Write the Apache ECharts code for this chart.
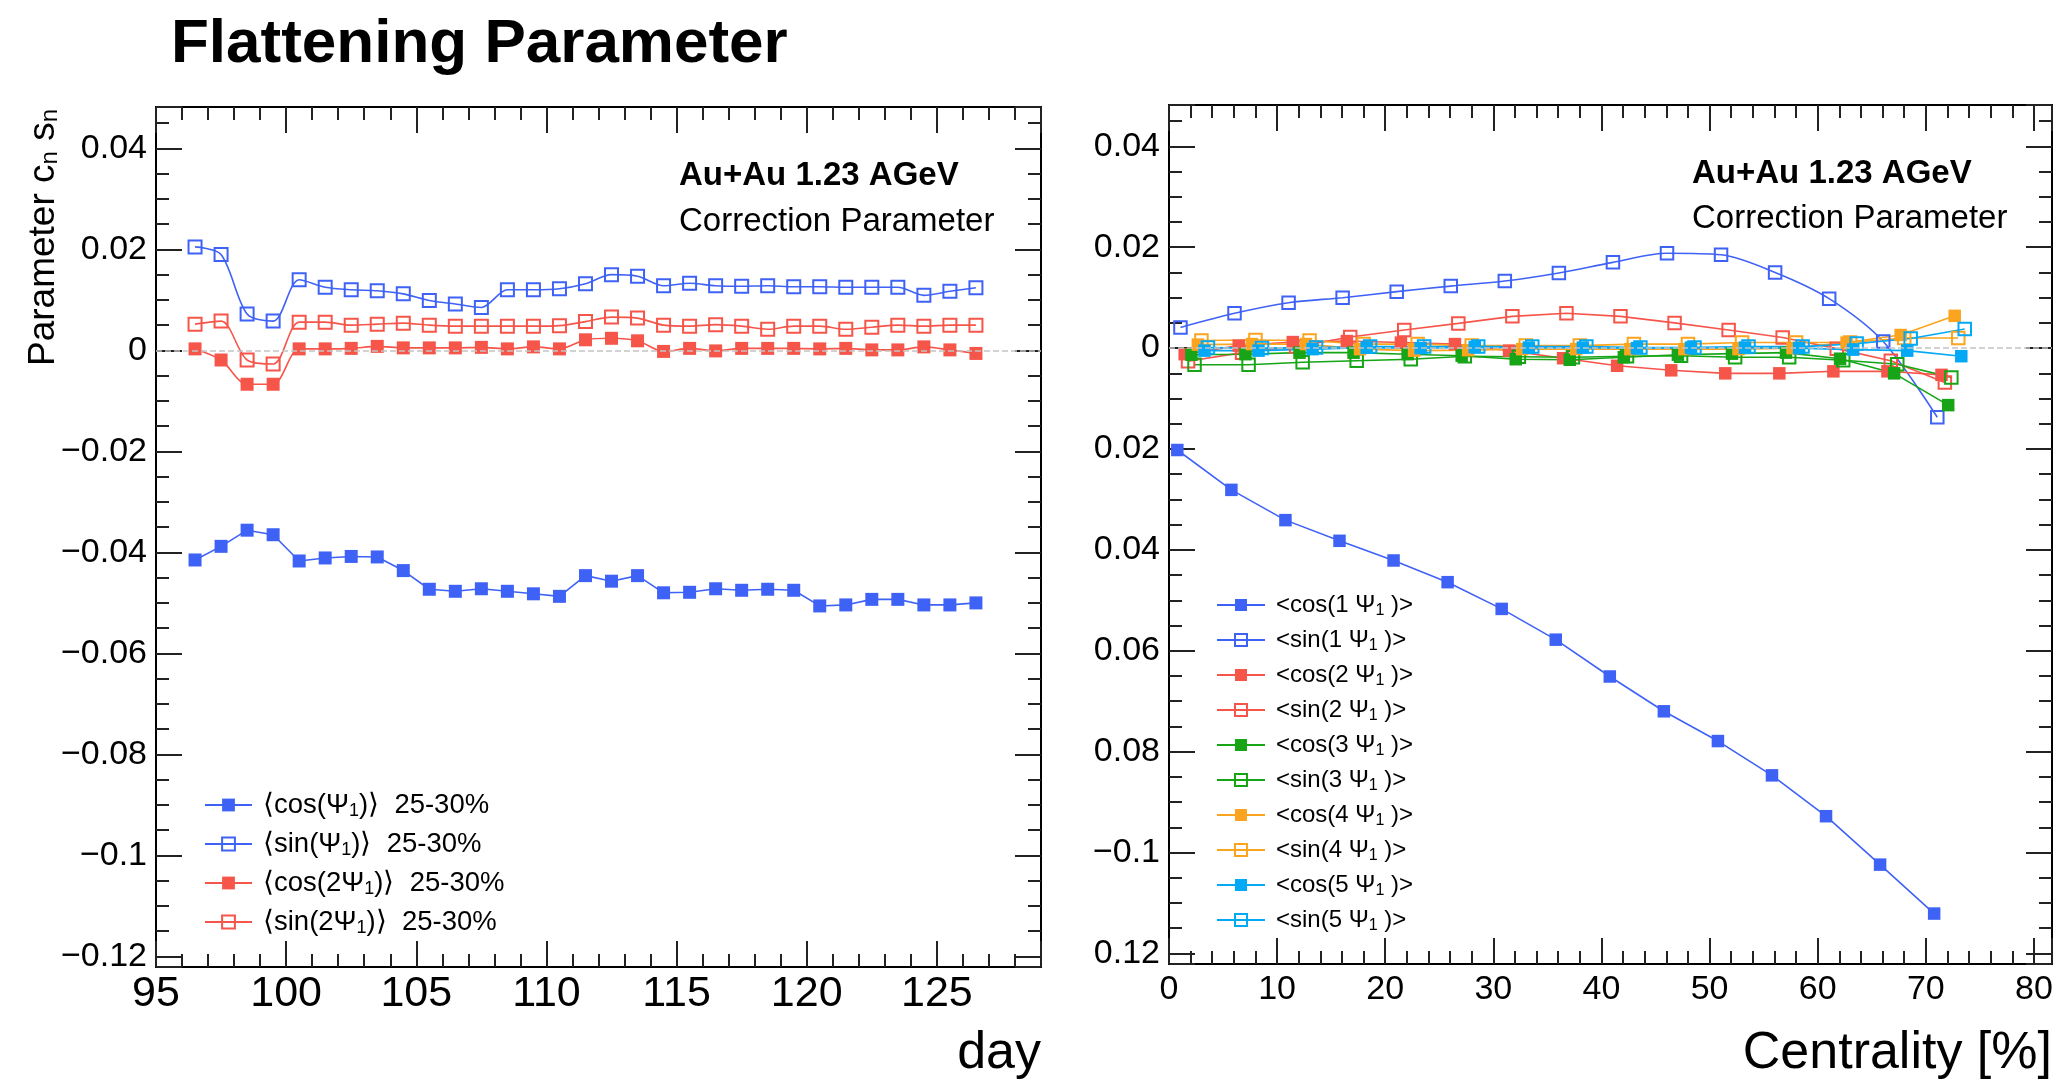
<!DOCTYPE html>
<html>
<head>
<meta charset="utf-8">
<script src="https://cdn.jsdelivr.net/npm/echarts@6/dist/echarts.min.js"></script>
<style>
  html, body { margin: 0; padding: 0; background: #fff; }
  #chart { width: 2058px; height: 1084px; }
</style>
</head>
<body>
<div id="chart"></div>
<script>
// ---------------- DATA ----------------
// Left panel: day vs parameter (25-30% centrality)
const days = [96.5, 97.5, 98.5, 99.5, 100.5, 101.5, 102.5, 103.5, 104.5, 105.5, 106.5, 107.5, 108.5, 109.5, 110.5,
  111.5, 112.5, 113.5, 114.5, 115.5, 116.5, 117.5, 118.5, 119.5, 120.5, 121.5, 122.5, 123.5, 124.5, 125.5, 126.5];
const dayCosPsi1 = [-0.0415, -0.0388, -0.0356, -0.0365, -0.0417, -0.0411, -0.0408, -0.0409, -0.0436, -0.0473, -0.0477,
  -0.0472, -0.0477, -0.0482, -0.0487, -0.0446, -0.0457, -0.0446, -0.0480, -0.0479, -0.0472, -0.0475, -0.0473, -0.0475,
  -0.0506, -0.0504, -0.0493, -0.0493, -0.0504, -0.0504, -0.0500];
const daySinPsi1 = [0.0205, 0.0190, 0.0072, 0.0058, 0.0140, 0.0125, 0.0120, 0.0118, 0.0112, 0.0099, 0.0092, 0.0085,
  0.0120, 0.0120, 0.0122, 0.0132, 0.0150, 0.0147, 0.0128, 0.0133, 0.0128, 0.0127, 0.0128, 0.0126, 0.0126, 0.0125,
  0.0125, 0.0125, 0.0109, 0.0117, 0.0124];
const dayCos2Psi1 = [0.0003, -0.0019, -0.0067, -0.0067, 0.0003, 0.0003, 0.0004, 0.0008, 0.0005, 0.0005, 0.0005, 0.0006,
  0.0003, 0.0007, 0.0003, 0.0021, 0.0024, 0.0019, -0.0002, 0.0004, -0.0001, 0.0004, 0.0004, 0.0004, 0.0003, 0.0004,
  0.0001, 0.0001, 0.0007, 0.0001, -0.0006];
const daySin2Psi1 = [0.0052, 0.0058, -0.0019, -0.0027, 0.0056, 0.0056, 0.0050, 0.0052, 0.0054, 0.0050, 0.0048, 0.0048,
  0.0048, 0.0048, 0.0049, 0.0057, 0.0066, 0.0064, 0.0050, 0.0048, 0.0051, 0.0048, 0.0042, 0.0048, 0.0048, 0.0042,
  0.0046, 0.0050, 0.0048, 0.0050, 0.0050];
const leftSeriesNames = ['⟨cos(Ψ1)⟩  25-30%', '⟨sin(Ψ1)⟩  25-30%', '⟨cos(2Ψ1)⟩  25-30%', '⟨sin(2Ψ1)⟩  25-30%'];

// Right panel: centrality vs parameter
const centralityBins = [2.5, 7.5, 12.5, 17.5, 22.5, 27.5, 32.5, 37.5, 42.5, 47.5, 52.5, 57.5, 62.5, 67.5, 72.5];
// small horizontal shift of each series inside a bin (as drawn)
const harmonicOffsets = [-1.73, -1.44, -1.05, -0.74, -0.43, -0.14, 0.17, 0.50, 0.78, 1.10];
const centCos1 = [-0.0202, -0.0281, -0.0341, -0.0382, -0.0421, -0.0464, -0.0517, -0.0578, -0.0651, -0.0720, -0.0779, -0.0847, -0.0928, -0.1024, -0.1121];
const centSin1 = [0.0041, 0.0069, 0.0090, 0.0100, 0.0112, 0.0123, 0.0133, 0.0149, 0.0170, 0.0188, 0.0185, 0.0150, 0.0098, 0.0013, -0.0137];
const centCos2 = [-0.0012, 0.0005, 0.0012, 0.0014, 0.0011, 0.0008, -0.0005, -0.0020, -0.0035, -0.0044, -0.0050, -0.0050, -0.0046, -0.0046, -0.0053];
const centSin2 = [-0.0026, -0.0009, 0.0003, 0.0022, 0.0036, 0.0049, 0.0063, 0.0069, 0.0063, 0.0050, 0.0036, 0.0021, -0.0001, -0.0025, -0.0068];
const centCos3 = [-0.0013, -0.0012, -0.0009, -0.0009, -0.0012, -0.0015, -0.0022, -0.0023, -0.0018, -0.0013, -0.0011, -0.0009, -0.0021, -0.0050, -0.0113];
const centSin3 = [-0.0033, -0.0033, -0.0028, -0.0025, -0.0022, -0.0016, -0.0017, -0.0018, -0.0016, -0.0015, -0.0018, -0.0018, -0.0024, -0.0032, -0.0058];
const centCos4 = [0.0007, 0.0008, 0.0008, -0.0002, -0.0005, -0.0004, -0.0002, -0.0002, -0.0002, -0.0002, -0.0002, 0.0000, 0.0011, 0.0026, 0.0064];
const centSin4 = [0.0015, 0.0016, 0.0015, 0.0008, 0.0008, 0.0005, 0.0005, 0.0005, 0.0008, 0.0008, 0.0011, 0.0011, 0.0011, 0.0020, 0.0020];
const centCos5 = [-0.0005, -0.0005, -0.0002, 0.0001, 0.0000, 0.0002, 0.0001, 0.0001, 0.0000, 0.0001, 0.0001, 0.0000, -0.0003, -0.0005, -0.0016];
const centSin5 = [0.0001, 0.0000, 0.0001, 0.0003, 0.0003, 0.0003, 0.0003, 0.0003, 0.0001, 0.0001, 0.0003, 0.0003, 0.0009, 0.0019, 0.0038];
const rightSeriesNames = ['<cos(1 Ψ1 )>', '<sin(1 Ψ1 )>', '<cos(2 Ψ1 )>', '<sin(2 Ψ1 )>', '<cos(3 Ψ1 )>',
  '<sin(3 Ψ1 )>', '<cos(4 Ψ1 )>', '<sin(4 Ψ1 )>', '<cos(5 Ψ1 )>', '<sin(5 Ψ1 )>'];

// Tick labels
const leftXTicks = [95, 100, 105, 110, 115, 120, 125];
const leftXTickLabels = ['95', '100', '105', '110', '115', '120', '125'];
const rightXTicks = [0, 10, 20, 30, 40, 50, 60, 70, 80];
const rightXTickLabels = ['0', '10', '20', '30', '40', '50', '60', '70', '80'];
const yTicks = [-0.12, -0.1, -0.08, -0.06, -0.04, -0.02, 0, 0.02, 0.04];
const leftYTickLabels = ['−0.12', '−0.1', '−0.08', '−0.06', '−0.04', '−0.02', '0', '0.02', '0.04'];
const rightYTickLabels = ['0.12', '−0.1', '0.08', '0.06', '0.04', '0.02', '0', '0.02', '0.04'];

// ---------------- STYLE ----------------
const FONT = '"Liberation Sans", Arial, Helvetica, sans-serif';
const C = { blue: '#3f62f6', red: '#f6554a', green: '#17a517', orange: '#fba41f', cyan: '#03a9f4' };
const Y_MIN = -0.1221, Y_MAX = 0.0482;

const lookup = (ticks, labels) => (v) => {
  const i = ticks.findIndex(t => Math.abs(t - v) < 1e-7);
  return i < 0 ? '' : labels[i];
};

function xAx(grid, min, max, interval, pos, tickLen, labelCfg) {
  return {
    type: 'value', gridIndex: grid, min: min, max: max, interval: interval, position: pos,
    axisLine: { show: true, onZero: false, lineStyle: { color: '#000', width: 2 } },
    axisTick: { show: true, inside: true, length: tickLen, lineStyle: { color: '#222', width: 2 } },
    splitLine: { show: false },
    axisLabel: labelCfg ? labelCfg : { show: false }
  };
}
function yAx(grid, step, pos, tickLen, labelCfg) {
  return {
    type: 'value', gridIndex: grid, min: Y_MIN, max: Y_MAX, minInterval: step, maxInterval: step, position: pos,
    axisLine: { show: true, onZero: false, lineStyle: { color: '#000', width: 2 } },
    axisTick: { show: true, inside: true, length: tickLen, lineStyle: { color: '#222', width: 2 } },
    splitLine: { show: false },
    axisLabel: labelCfg ? labelCfg : { show: false }
  };
}

const xAxes = [
  xAx(0, 95, 129, 5, 'bottom', 26, { show: true, fontSize: 43, fontFamily: FONT, color: '#000', margin: 6,
    formatter: lookup(leftXTicks, leftXTickLabels) }),
  xAx(0, 95, 129, 1, 'bottom', 13),
  xAx(0, 95, 129, 5, 'top', 26),
  xAx(0, 95, 129, 1, 'top', 13),
  xAx(1, 0, 81.67, 10, 'bottom', 26, { show: true, fontSize: 34, fontFamily: FONT, color: '#000', margin: 9,
    formatter: lookup(rightXTicks, rightXTickLabels) }),
  xAx(1, 0, 81.67, 2, 'bottom', 13),
  xAx(1, 0, 81.67, 10, 'top', 26),
  xAx(1, 0, 81.67, 2, 'top', 13)
];
const yAxes = [
  yAx(0, 0.02, 'left', 26, { show: true, fontSize: 34, fontFamily: FONT, color: '#000', margin: 9,
    formatter: lookup(yTicks, leftYTickLabels) }),
  yAx(0, 0.005, 'left', 13),
  yAx(0, 0.02, 'right', 26),
  yAx(0, 0.005, 'right', 13),
  yAx(1, 0.02, 'left', 26, { show: true, fontSize: 34, fontFamily: FONT, color: '#000', margin: 9,
    formatter: lookup(yTicks, rightYTickLabels) }),
  yAx(1, 0.005, 'left', 13),
  yAx(1, 0.02, 'right', 26),
  yAx(1, 0.005, 'right', 13)
];

function mkSeries(name, xs, ys, color, filled, axisIdx, symSize, smooth) {
  return {
    type: 'line', name: name, xAxisIndex: axisIdx, yAxisIndex: axisIdx,
    data: xs.map((x, i) => [x, ys[i]]),
    symbol: 'rect', symbolSize: symSize, showSymbol: true,
    smooth: smooth,
    lineStyle: { color: color, width: 1.6 },
    itemStyle: filled ? { color: color, borderWidth: 0 }
                      : { color: 'rgba(255,255,255,0)', borderColor: color, borderWidth: 2 },
    emphasis: { disabled: true },
    z: 3
  };
}

const zeroLine = {
  silent: true, symbol: 'none', label: { show: false },
  lineStyle: { type: 'dashed', color: '#c4c4c4', width: 1.5 },
  data: [{ yAxis: 0 }]
};

const leftData = [dayCosPsi1, daySinPsi1, dayCos2Psi1, daySin2Psi1];
const leftColors = [C.blue, C.blue, C.red, C.red];
const leftSmooth = [false, 0.3, 0.3, 0.3];
const series = [];
leftData.forEach((d, i) => {
  const s = mkSeries(leftSeriesNames[i], days, d, leftColors[i], i % 2 === 0, 0, 13, leftSmooth[i]);
  if (i === 0) s.markLine = zeroLine;
  series.push(s);
});

const rightData = [centCos1, centSin1, centCos2, centSin2, centCos3, centSin3, centCos4, centSin4, centCos5, centSin5];
const rightColors = [C.blue, C.blue, C.red, C.red, C.green, C.green, C.orange, C.orange, C.cyan, C.cyan];
rightData.forEach((d, i) => {
  const xs = centralityBins.map(b => b + harmonicOffsets[i]);
  const s = mkSeries(rightSeriesNames[i], xs, d, rightColors[i], i % 2 === 0, 4, 12.5, i === 1 ? 0.3 : false);
  if (i === 0) s.markLine = zeroLine;
  series.push(s);
});

const subFmt = (name) => name.replace('Ψ1', 'Ψ{sub|1}');

const option = {
  animation: false,
  backgroundColor: '#fff',
  grid: [
    { left: 156, top: 107, width: 885, height: 860 },
    { left: 1169, top: 105, width: 883, height: 859 }
  ],
  xAxis: xAxes,
  yAxis: yAxes,
  legend: [
    {
      data: leftSeriesNames, orient: 'vertical', left: 199, top: 785,
      itemWidth: 47, itemHeight: 16, itemGap: 9, selectedMode: false,
      formatter: subFmt,
      textStyle: {
        fontSize: 27.5, fontFamily: FONT, color: '#000', lineHeight: 30, padding: [0, 0, 0, 6],
        rich: { sub: { fontSize: 18, fontFamily: FONT, color: '#000', lineHeight: 13, verticalAlign: 'bottom' } }
      }
    },
    {
      data: rightSeriesNames, orient: 'vertical', left: 1211, top: 586,
      itemWidth: 48, itemHeight: 15, itemGap: 7, selectedMode: false,
      formatter: subFmt,
      textStyle: {
        fontSize: 24, fontFamily: FONT, color: '#000', lineHeight: 28, padding: [0, 0, 0, 6],
        rich: { sub: { fontSize: 16, fontFamily: FONT, color: '#000', lineHeight: 12, verticalAlign: 'bottom' } }
      }
    }
  ],
  graphic: [
    { type: 'text', x: 171, y: 45, silent: true,
      style: { text: 'Flattening Parameter', fontSize: 62, fontWeight: 'bold', fontFamily: FONT, fill: '#000',
        align: 'left', verticalAlign: 'middle', textAlign: 'left', textVerticalAlign: 'middle' } },
    { type: 'text', x: 44, y: 109, rotation: Math.PI / 2, silent: true,
      style: { text: 'Parameter c{sub|n} s{sub|n}', fontSize: 37, fontFamily: FONT, fill: '#000',
        align: 'right', verticalAlign: 'middle', textAlign: 'right', textVerticalAlign: 'middle',
        rich: { sub: { fontSize: 24, fontFamily: FONT, fill: '#000', lineHeight: 14, verticalAlign: 'bottom' } } } },
    { type: 'text', x: 679, y: 176, silent: true,
      style: { text: 'Au+Au 1.23 AGeV', fontSize: 33, fontWeight: 'bold', fontFamily: FONT, fill: '#000',
        align: 'left', verticalAlign: 'middle', textAlign: 'left', textVerticalAlign: 'middle' } },
    { type: 'text', x: 679, y: 222, silent: true,
      style: { text: 'Correction Parameter', fontSize: 33, fontFamily: FONT, fill: '#000',
        align: 'left', verticalAlign: 'middle', textAlign: 'left', textVerticalAlign: 'middle' } },
    { type: 'text', x: 1692, y: 174, silent: true,
      style: { text: 'Au+Au 1.23 AGeV', fontSize: 33, fontWeight: 'bold', fontFamily: FONT, fill: '#000',
        align: 'left', verticalAlign: 'middle', textAlign: 'left', textVerticalAlign: 'middle' } },
    { type: 'text', x: 1692, y: 219, silent: true,
      style: { text: 'Correction Parameter', fontSize: 33, fontFamily: FONT, fill: '#000',
        align: 'left', verticalAlign: 'middle', textAlign: 'left', textVerticalAlign: 'middle' } },
    { type: 'text', x: 1041, y: 1054, silent: true,
      style: { text: 'day', fontSize: 52, fontFamily: FONT, fill: '#000',
        align: 'right', verticalAlign: 'middle', textAlign: 'right', textVerticalAlign: 'middle' } },
    { type: 'text', x: 2052, y: 1054, silent: true,
      style: { text: 'Centrality [%]', fontSize: 52, fontFamily: FONT, fill: '#000',
        align: 'right', verticalAlign: 'middle', textAlign: 'right', textVerticalAlign: 'middle' } }
  ],
  series: series
};

const chart = echarts.init(document.getElementById('chart'), null, { renderer: 'canvas' });
chart.setOption(option);
</script>
</body>
</html>
